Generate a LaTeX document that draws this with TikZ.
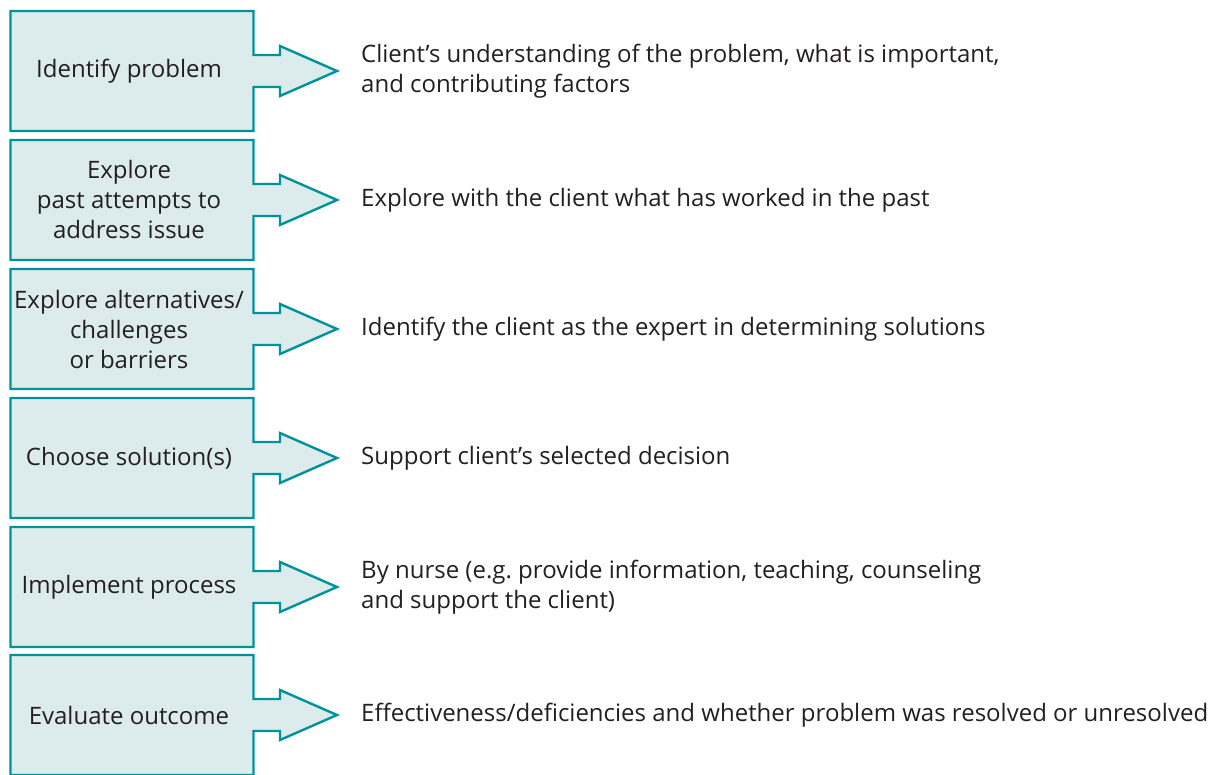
\documentclass[tikz,border=0pt]{standalone}
\usepackage{fontspec}
\setmainfont{Open Sans}
\usetikzlibrary{calc,backgrounds}
\definecolor{tealline}{HTML}{00929A}
\definecolor{tealfill}{HTML}{DCEBEB}
\definecolor{txt}{HTML}{231F20}
\frenchspacing
\tikzset{
  stepbox/.style={minimum width=243pt, minimum height=120pt, outer sep=0pt, inner sep=0pt, align=center, text=txt},
  desc/.style={anchor=west, align=left, inner sep=0pt, text=txt},
  outline/.style={draw=tealline, fill=tealfill, line width=2.4pt, line join=miter},
}
\begin{document}
\begin{tikzpicture}[x=1pt,y=-1pt,font=\fontsize{24}{30}\selectfont]
\useasboundingbox (0,0) rectangle (1217,775);
\foreach \i/\t/\lab/\des in {
  1/11/{Identify problem}/{Client’s understanding of the problem, what is important,\\and contributing factors},
  2/140/{Explore\\past attempts to\\address issue}/{Explore with the client what has worked in the past},
  3/269/{Explore alternatives/\\challenges\\or barriers}/{Identify the client as the expert in determining solutions},
  4/398/{Choose solution(s)}/{Support client’s selected decision},
  5/527/{Implement process}/{By nurse (e.g. provide information, teaching, counseling\\and support the client)},
  6/655/{Evaluate outcome}/{Effectiveness/deficiencies and whether problem was resolved or unresolved}}{
  \node[stepbox] (b\i) at (132,\t+60) {};
  \node[align=center, text=txt, inner sep=0pt] (l\i) at (129,\t+60) {\lab};
  \node[desc] (d\i) at (361,\t+60) {\des};
  \coordinate (tip\i) at ($(b\i.east)+(83.5,0)$);
  \begin{scope}[on background layer]
    \draw[outline] (b\i.north west) -- (b\i.north east) -- ($(b\i.east)+(0,-16)$) -- ++(26.5,0) -- ++(0,-9)
      -- (tip\i) -- ($(b\i.east)+(26.5,25)$) -- ++(0,-9) -- ($(b\i.east)+(0,16)$)
      -- (b\i.south east) -- (b\i.south west) -- cycle;
  \end{scope}
}
\end{tikzpicture}
\end{document}
